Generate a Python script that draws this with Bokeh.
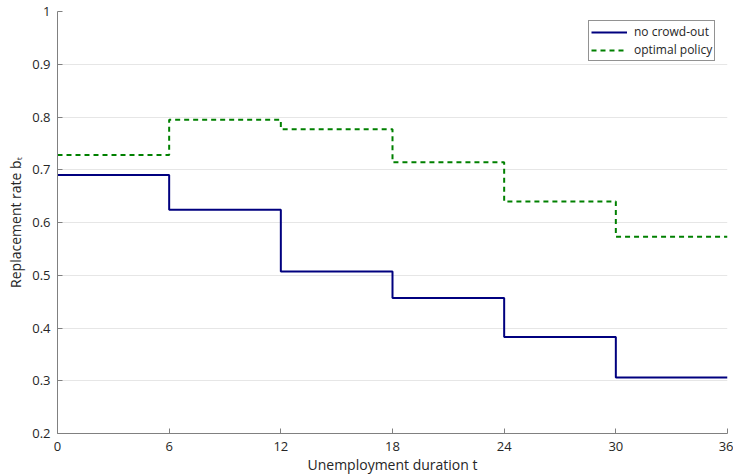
from bokeh.plotting import figure
from bokeh.models import Range1d, FixedTicker, Legend, LegendItem
from bokeh.embed import file_html
from bokeh.resources import INLINE

# data
t_edges = [0, 6, 12, 18, 24, 30, 36]
no_crowd_out = [0.690, 0.624, 0.507, 0.457, 0.383, 0.306]
optimal_policy = [0.728, 0.795, 0.777, 0.714, 0.640, 0.573]
x_ticks = [0, 6, 12, 18, 24, 30, 36]
y_ticks = [0.2, 0.3, 0.4, 0.5, 0.6, 0.7, 0.8, 0.9, 1.0]

FONT = "Open Sans"
TXT = "#262626"

p = figure(width=733, height=476, output_backend="svg", toolbar_location=None,
           x_range=Range1d(0, 36), y_range=Range1d(0.2, 1.0),
           min_border_left=57, min_border_right=6, min_border_top=11, min_border_bottom=42)
p.outline_line_color = None
p.background_fill_color = "white"

y1 = no_crowd_out + [no_crowd_out[-1]]
y2 = optimal_policy + [optimal_policy[-1]]
r1 = p.step(t_edges, y1, mode="after", line_color="#00007F", line_width=2)
r2 = p.step(t_edges, y2, mode="after", line_color="#008000", line_width=2, line_dash="5 4")

for ax in (p.xaxis[0], p.yaxis[0]):
    ax.axis_line_color = "#808080"
    ax.major_tick_line_color = "#808080"
    ax.major_tick_in = 5
    ax.major_tick_out = 0
    ax.minor_tick_line_color = None
    ax.major_label_text_font = FONT
    ax.major_label_text_font_size = "13px"
    ax.major_label_text_color = TXT
    ax.axis_label_text_font = FONT
    ax.axis_label_text_font_size = "14px"
    ax.axis_label_text_color = TXT
    ax.axis_label_text_font_style = "normal"

p.xaxis.ticker = FixedTicker(ticks=x_ticks)
p.yaxis.ticker = FixedTicker(ticks=y_ticks)
p.yaxis.major_label_overrides = {1.0: "1", 0.2: "0.2", 0.3: "0.3", 0.4: "0.4", 0.5: "0.5",
                                 0.6: "0.6", 0.7: "0.7", 0.8: "0.8", 0.9: "0.9"}
p.yaxis.major_label_standoff = 7
p.xaxis.major_label_standoff = 8
p.xaxis.axis_label = "Unemployment duration t"
p.xaxis.axis_label_standoff = 1
p.yaxis.axis_label = "Replacement rate b\u209c"
p.yaxis.axis_label_standoff = 4

p.xgrid.grid_line_color = None
p.ygrid.grid_line_color = "#e6e6e6"
p.ygrid.ticker = FixedTicker(ticks=y_ticks)

legend = Legend(items=[LegendItem(label="no crowd-out", renderers=[r1]),
                       LegendItem(label="optimal policy", renderers=[r2])],
                location=(531, 372))
legend.border_line_color = "#262626"
legend.border_line_width = 1
legend.label_text_font = FONT
legend.label_text_font_size = "12px"
legend.label_text_color = TXT
legend.glyph_width = 36
legend.glyph_height = 12
legend.label_height = 12
legend.spacing = 1
legend.padding = 2
legend.margin = 0
legend.label_standoff = 7
p.add_layout(legend)

open("out.html", "w").write(file_html(p, INLINE))
